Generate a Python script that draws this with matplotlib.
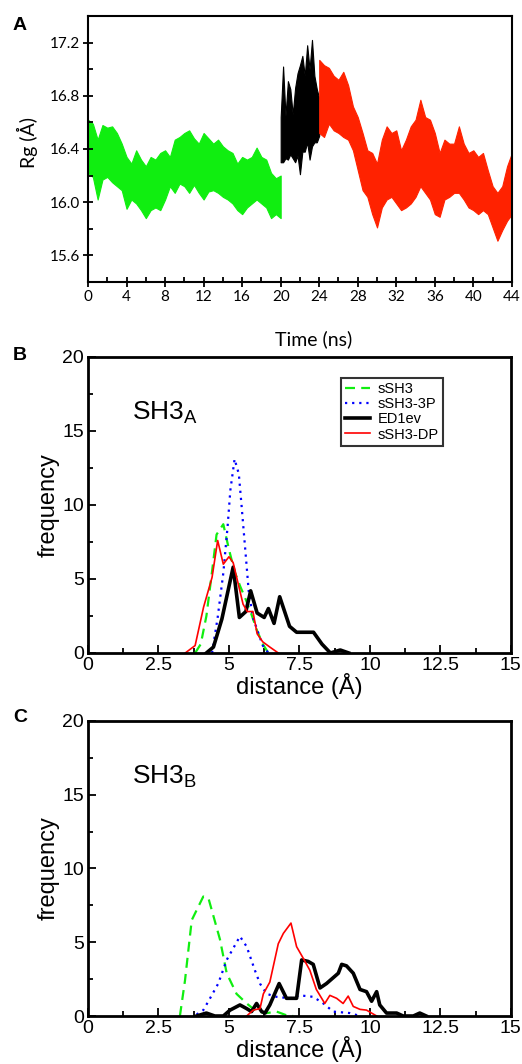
import numpy as np
import matplotlib
matplotlib.use('Agg')
import matplotlib.pyplot as plt
from matplotlib.ticker import MultipleLocator

# ---- Panel A: Rg trace, envelope (hi / lo per time point)
t_green  = np.arange(0, 20.01, 0.5)
g_hi = [16.62, 16.59, 16.47, 16.58, 16.56, 16.57, 16.52, 16.44, 16.34, 16.29,
        16.39, 16.32, 16.27, 16.34, 16.32, 16.37, 16.39, 16.34, 16.47, 16.49,
        16.52, 16.54, 16.48, 16.44, 16.52, 16.48, 16.44, 16.47, 16.42, 16.39,
        16.37, 16.29, 16.34, 16.32, 16.34, 16.41, 16.34, 16.32, 16.22, 16.18, 16.20]
g_lo = [16.22, 16.19, 16.02, 16.17, 16.19, 16.15, 16.12, 16.09, 15.95, 16.02,
        15.99, 15.94, 15.88, 15.94, 15.96, 15.94, 16.02, 16.12, 16.07, 16.14,
        16.12, 16.07, 16.13, 16.07, 16.02, 16.08, 16.09, 16.07, 16.04, 16.02,
        15.99, 15.94, 15.91, 15.96, 15.99, 16.02, 15.99, 15.96, 15.88, 15.91, 15.88]

t_black  = np.arange(20, 24.01, 0.25)
k_hi = [16.64, 17.02, 16.65, 16.91, 16.85, 16.66, 16.86, 16.97, 17.03,
        17.10, 16.95, 17.18, 17.00, 17.22, 16.95, 16.85, 16.78]
k_lo = [16.30, 16.30, 16.33, 16.32, 16.36, 16.33, 16.30, 16.35, 16.21,
        16.38, 16.38, 16.45, 16.32, 16.42, 16.45, 16.45, 16.50]

t_red    = np.arange(24, 44.01, 0.5)
r_hi = [17.07, 17.03, 17.01, 16.95, 16.92, 16.98, 16.88, 16.72, 16.64, 16.52,
        16.39, 16.37, 16.29, 16.47, 16.57, 16.52, 16.54, 16.39, 16.47, 16.57,
        16.62, 16.77, 16.64, 16.62, 16.52, 16.37, 16.47, 16.44, 16.44, 16.57,
        16.44, 16.37, 16.39, 16.34, 16.37, 16.24, 16.12, 16.07, 16.12, 16.27, 16.37]
r_lo = [16.52, 16.49, 16.59, 16.54, 16.52, 16.49, 16.47, 16.39, 16.24, 16.09,
        16.04, 15.91, 15.81, 15.96, 16.02, 16.04, 15.99, 15.94, 15.96, 15.99,
        16.04, 16.12, 16.07, 16.02, 15.91, 15.89, 16.02, 16.04, 16.07, 16.07,
        16.02, 15.96, 15.94, 15.91, 15.94, 15.91, 15.81, 15.71, 15.79, 15.86, 15.91]

# ---- Panel B: SH3A distance histograms
bA_sSH3_x = [3.8, 4.0, 4.2, 4.4, 4.56, 4.8, 5.0, 5.2, 5.4, 5.6, 5.8, 6.0, 6.2, 6.4]
bA_sSH3_y = [0, 0.6, 2.5, 5.5, 8.0, 8.7, 7.0, 5.5, 4.5, 3.6, 2.6, 1.5, 0.6, 0]
bA_3P_x   = [4.4, 4.6, 4.8, 4.95, 5.05, 5.2, 5.35, 5.45, 5.6, 5.7, 5.85, 6.05, 6.2, 6.4]
bA_3P_y   = [0, 2.4, 5.4, 8.5, 11.0, 13.1, 12.1, 9.9, 6.5, 4.2, 2.4, 1.3, 0.5, 0]
bA_ED_x   = [4.2, 4.45, 4.75, 5.15, 5.37, 5.6, 5.77, 6.0, 6.25, 6.4, 6.6, 6.8,
             7.15, 7.4, 8.0, 8.3, 8.6, 8.95, 9.25]
bA_ED_y   = [0, 0.4, 2.3, 5.8, 2.4, 2.8, 4.2, 2.7, 2.4, 3.0, 2.0, 3.8,
             1.8, 1.4, 1.4, 0.6, 0, 0.2, 0]
bA_DP_x   = [3.45, 3.8, 4.1, 4.4, 4.6, 4.8, 5.0, 5.15, 5.5, 5.65, 5.85, 6.0, 6.2, 6.45, 6.75]
bA_DP_y   = [0, 0.5, 3.1, 5.1, 7.6, 6.0, 6.5, 6.1, 3.3, 2.8, 2.8, 1.3, 0.75, 0.4, 0]

# ---- Panel C: SH3B distance histograms
cB_sSH3_x = [3.26, 3.44, 3.68, 4.09, 4.27, 4.68, 4.92, 5.27, 5.63, 5.98, 6.34, 6.69, 7.04, 7.28]
cB_sSH3_y = [0, 2.4, 6.5, 8.1, 8.0, 5.2, 2.9, 1.5, 0.85, 0.3, 0.2, 0.3, 0.05, 0]
cB_3P_x   = [3.85, 4.09, 4.33, 4.62, 4.92, 5.39, 5.63, 5.92, 6.1, 6.34, 6.69, 7.16,
             7.52, 7.99, 8.35, 8.7, 9.29, 9.65]
cB_3P_y   = [0.1, 0.4, 1.2, 2.2, 3.8, 5.4, 4.7, 3.1, 2.2, 1.5, 1.3, 1.2,
             1.4, 1.3, 0.85, 0.3, 0.2, 0]
cB_DP_x   = [5.63, 5.86, 6.1, 6.22, 6.45, 6.75, 6.93, 7.2, 7.4, 7.64, 7.87, 8.1,
             8.4, 8.58, 8.82, 9.05, 9.23, 9.41, 9.65, 9.88, 10.24]
cB_DP_y   = [0, 0.4, 0.5, 1.5, 2.3, 4.9, 5.6, 6.3, 4.7, 3.9, 3.1, 1.8,
             0.85, 1.4, 1.2, 0.85, 1.35, 0.65, 0.45, 0.4, 0]
cB_ED_x   = [3.85, 4.2, 4.5, 4.8, 5.04, 5.39, 5.63, 5.8, 5.98, 6.16, 6.28, 6.45,
             6.78, 7.04, 7.4, 7.58, 7.81, 7.99, 8.23, 8.46, 8.7, 8.88, 9.0,
             9.17, 9.41, 9.65, 9.88, 10.06, 10.24, 10.35, 10.59, 10.95, 11.18,
             11.54, 11.77, 12.0]
cB_ED_y   = [0, 0.2, 0, 0, 0.4, 0.75, 0.5, 0.3, 0.85, 0.3, 0.2, 0.75,
             2.2, 1.2, 1.2, 3.8, 3.7, 3.5, 1.9, 2.2, 2.6, 2.9, 3.5,
             3.4, 2.9, 1.8, 1.65, 1.0, 1.65, 0.75, 0.2, 0.2, 0,
             0, 0.2, 0]

GREEN = '#10ee10'
RED   = '#ff2200'

plt.rcParams['font.family'] = ['Liberation Sans', 'DejaVu Sans']
plt.rcParams['mathtext.fontset'] = 'custom'
plt.rcParams['mathtext.rm'] = 'Liberation Sans'

fig = plt.figure(figsize=(5.22, 10.64), dpi=100)

# ------------------------------------------------------------------ A
axA = fig.add_axes([0.1686, 0.735, 0.812, 0.250])
for t, lo, hi, c in [(t_green, g_lo, g_hi, GREEN),
                     (t_black, k_lo, k_hi, 'black'),
                     (t_red, r_lo, r_hi, RED)]:
    axA.fill_between(t, lo, hi, color=c, lw=0.8)
axA.set_xlim(0, 44)
axA.set_ylim(15.4, 17.4)
axA.xaxis.set_major_locator(MultipleLocator(4))
axA.xaxis.set_minor_locator(MultipleLocator(2))
axA.yaxis.set_major_locator(MultipleLocator(0.4))
axA.yaxis.set_minor_locator(MultipleLocator(0.2))
axA.yaxis.set_major_formatter(matplotlib.ticker.FormatStrFormatter('%.1f'))
axA.set_yticks([15.6, 16.0, 16.4, 16.8, 17.2])
for s in axA.spines.values():
    s.set_linewidth(1.5)
axA.tick_params(which='major', direction='inout', length=7, width=1.3,
                labelsize=11, pad=2)
axA.tick_params(which='minor', direction='in', length=3.5, width=1.3)
for lab in axA.get_xticklabels() + axA.get_yticklabels():
    lab.set_family('Lato')
fig.text(0.052, 1 - 143 / 1064, 'Rg (Å)', rotation=90, ha='center', va='center',
         fontsize=14, family='Lato')
fig.text(0.60, 1 - 339 / 1064, 'Time (ns)', ha='center', va='center',
         fontsize=14, family='Lato')
fig.text(0.038, 1 - 25 / 1064, 'A', fontsize=14, fontweight='bold', ha='center', va='center')


def hist_axes(rect, label, letter, letter_y):
    ax = fig.add_axes(rect)
    ax.set_xlim(0, 15)
    ax.set_ylim(0, 20)
    ax.xaxis.set_major_locator(MultipleLocator(2.5))
    ax.xaxis.set_minor_locator(MultipleLocator(1.25))
    ax.yaxis.set_major_locator(MultipleLocator(5))
    ax.yaxis.set_minor_locator(MultipleLocator(2.5))
    ax.xaxis.set_major_formatter(matplotlib.ticker.FuncFormatter(
        lambda v, p: f'{v:g}'))
    for s in ax.spines.values():
        s.set_linewidth(2.0)
    ax.tick_params(which='major', direction='in', length=6, width=1.3,
                   labelsize=14, pad=3)
    ax.tick_params(which='minor', direction='in', length=3.5, width=1.3)
    ax.set_xlabel('distance (Å)', fontsize=17, labelpad=-1)
    ax.set_ylabel('frequency', fontsize=17, labelpad=2)
    ax.text(1.55, 16.2, label, fontsize=19, va='center')
    fig.text(0.038, letter_y, letter, fontsize=14, fontweight='bold',
             ha='center', va='center')
    return ax


def draw(ax, g, b, k, r):
    ax.plot(*g, color=GREEN, lw=1.6, dashes=[4.5, 2.8], label='sSH3')
    ax.plot(*b, color='blue', lw=1.6, linestyle=(0, (1, 2.2)), label='sSH3-3P')
    ax.plot(*k, color='black', lw=2.6, label='ED1ev')
    ax.plot(*r, color='red', lw=1.2, label='sSH3-DP')


axB = hist_axes([0.1686, 0.3863, 0.810, 0.2782], r'SH3$_\mathregular{A}$', 'B', 1 - 356 / 1064)
draw(axB, (bA_sSH3_x, bA_sSH3_y), (bA_3P_x, bA_3P_y),
     (bA_ED_x, bA_ED_y), (bA_DP_x, bA_DP_y))
leg = axB.legend(loc='upper left', bbox_to_anchor=(0.598, 0.93), fontsize=10.5,
                 frameon=True, fancybox=False, edgecolor='black',
                 handlelength=1.7, handletextpad=0.5, labelspacing=0.08,
                 borderpad=0.3, borderaxespad=0)
leg.get_frame().set_linewidth(1.5)

axC = hist_axes([0.1686, 0.0451, 0.810, 0.2773], r'SH3$_\mathregular{B}$', 'C', 1 - 718 / 1064)
draw(axC, (cB_sSH3_x, cB_sSH3_y), (cB_3P_x, cB_3P_y),
     (cB_ED_x, cB_ED_y), (cB_DP_x, cB_DP_y))

fig.savefig('out.png', dpi=100)
